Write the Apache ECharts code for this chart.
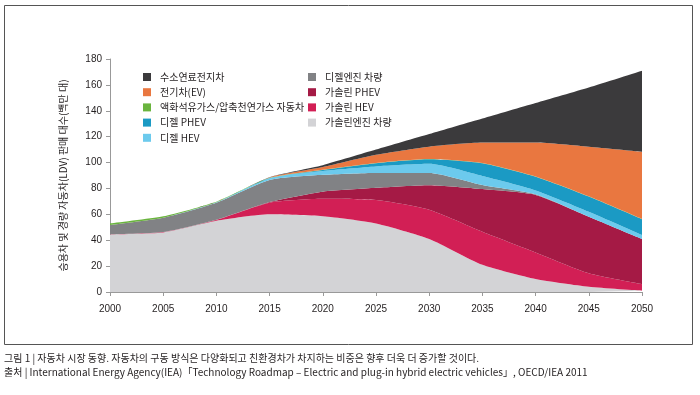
<!DOCTYPE html>
<html><head><meta charset="utf-8">
<script src="https://cdn.jsdelivr.net/npm/echarts@6/dist/echarts.min.js"></script>
<style>html,body{margin:0;padding:0;background:#fff}#c{width:700px;height:395px}</style>
</head><body><div id="c"></div>
<script>
const years = ['2000','2005','2010','2015','2020','2025','2030','2035','2040','2045','2050'];
const yTicks = [0,20,40,60,80,100,120,140,160,180];
const gasEngine = [44.5,46,55,60,58.5,53,41,21,10,4,1];
const gasHEV = [0,0.3,0.7,9,13.5,18,22.5,25.5,20.5,10.4,5];
const gasPHEV = [0,0,0.1,0.5,5.5,9.5,19,33,44.5,43.8,35];
const dieselEngine = [7.3,11.1,13.2,17,13,11.5,9.5,3.2,0.5,0,0];
const dieselHEV = [0,0,0.3,1.5,3,5,7,6.9,3,3.8,3];
const dieselPHEV = [0,0,0,0,0.8,2.5,3.5,9.8,10.5,11.7,12.2];
const lpgCng = [1.2,1.1,0.5,0.2,0.2,0.2,0.2,0.2,0.2,0.2,0.2];
const ev = [0,0,0,0.3,2,6.3,9.6,15.8,26.3,38.4,52];
const fuelCell = [0,0,0,0.2,1.5,4,9.7,18.6,30.5,45.7,62.6];

const names = {
  fc:'수소연료전지차', ev:'전기차(EV)', lpg:'액화석유가스/압축천연가스 자동차',
  dphev:'디젤 PHEV', dhev:'디젤 HEV', de:'디젤엔진 차량',
  gphev:'가솔린 PHEV', ghev:'가솔린 HEV', ge:'가솔린엔진 차량'
};
const layers = [
  [names.ge, gasEngine, '#d3d3d6'],
  [names.ghev, gasHEV, '#d21f55'],
  [names.gphev, gasPHEV, '#a51a45'],
  [names.de, dieselEngine, '#818285'],
  [names.dhev, dieselHEV, '#6ccaed'],
  [names.dphev, dieselPHEV, '#1b9ac4'],
  [names.lpg, lpgCng, '#6ab43e'],
  [names.ev, ev, '#e97740'],
  [names.fc, fuelCell, '#3b3a3c']
];
const series = layers.map(([n,d,c]) => ({
  name:n, type:'line', stack:'all', data:d, smooth:0.2, symbol:'none', showSymbol:false,
  lineStyle:{width:0}, itemStyle:{color:c}, areaStyle:{color:c, opacity:1}, color:c
}));
const legendText = {color:'#231f20', fontSize:10, fontFamily:'"Noto Sans CJK KR", sans-serif', lineHeight:12, padding:[0,0,0,4]};
const chart = echarts.init(document.getElementById('c'));
chart.setOption({
  animation:false,
  backgroundColor:'#fff',
  grid:{left:110, right:58, top:59, bottom:103},
  legend:[
    {data:[names.fc,names.ev,names.lpg,names.dphev,names.dhev], left:138, top:66, orient:'vertical',
     icon:'rect', itemWidth:8, itemHeight:8, itemGap:3.2, textStyle:legendText, selectedMode:false},
    {data:[names.de,names.gphev,names.ghev,names.ge], left:303, top:66, orient:'vertical',
     icon:'rect', itemWidth:8, itemHeight:8, itemGap:3.2, textStyle:legendText, selectedMode:false}
  ],
  xAxis:{type:'category', data:years, boundaryGap:false,
    axisLine:{lineStyle:{color:'#999'}}, axisTick:{alignWithLabel:true, length:4, lineStyle:{color:'#999'}},
    axisLabel:{color:'#231f20', fontSize:10, margin:12, fontFamily:'Arial, "Liberation Sans", sans-serif'}},
  yAxis:{type:'value', min:yTicks[0], max:yTicks[yTicks.length-1], interval:20,
    name:'승용차 및 경량 자동차(LDV) 판매 대수(백만 대)', nameLocation:'middle', nameGap:42, nameRotate:90,
    nameTextStyle:{color:'#231f20', fontSize:10, fontFamily:'"Noto Sans CJK KR", sans-serif'},
    axisLine:{show:true, lineStyle:{color:'#999'}}, axisTick:{show:true, length:4, lineStyle:{color:'#999'}},
    splitLine:{show:false},
    axisLabel:{color:'#231f20', fontSize:10, margin:8, fontFamily:'Arial, "Liberation Sans", sans-serif'}},
  series:series,
  graphic:[
    {type:'rect', shape:{x:4.5, y:5.5, width:688, height:339}, style:{fill:null, stroke:'#555', lineWidth:1}, silent:true, z:-1},
    {type:'text', left:4, top:353, style:{text:'그림 1 | 자동차 시장 동향. 자동차의 구동 방식은 다양화되고 친환경차가 차지하는 비중은 향후 더욱 더 증가할 것이다.', fill:'#231f20', font:'10px "Noto Sans CJK KR", sans-serif'}},
    {type:'text', left:4, top:367, style:{text:'출처 | International Energy Agency(IEA)「Technology Roadmap – Electric and plug-in hybrid electric vehicles」, OECD/IEA 2011', fill:'#231f20', font:'10px "Noto Sans CJK KR", sans-serif'}}
  ]
});
</script></body></html>
